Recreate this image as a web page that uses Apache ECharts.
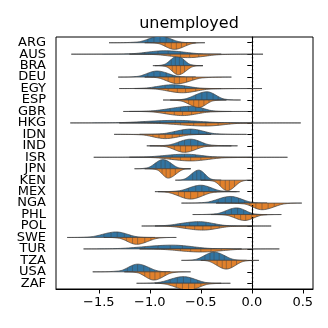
<!DOCTYPE html>
<html>
<head>
<meta charset="utf-8">
<script src="https://cdn.jsdelivr.net/npm/echarts@6/dist/echarts.min.js"></script>
<style>
  html, body { margin: 0; padding: 0; background: #fff; }
  #chart { width: 328px; height: 328px; }
</style>
</head>
<body>
<div id="chart"></div>
<script>
// countries, top to bottom
const countries = ['ARG', 'AUS', 'BRA', 'DEU', 'EGY', 'ESP', 'GBR', 'HKG', 'IDN', 'IND', 'ISR',
  'JPN', 'KEN', 'MEX', 'NGA', 'PHL', 'POL', 'SWE', 'TUR', 'TZA', 'USA', 'ZAF']

// half-violin profiles: [tail start, body start, peak, body end, tail end, peak height (share of row)]
const blueHalf = [
  [-1.40, -1.12, -0.90, -0.70, -0.55, 0.57],
  [-1.77, -1.20, -0.85, -0.50, -0.30, 0.30],
  [-0.97, -0.86, -0.73, -0.60, -0.48, 0.83],
  [-1.31, -1.12, -0.93, -0.72, -0.55, 0.53],
  [-1.30, -1.05, -0.78, -0.50, -0.30, 0.33],
  [-0.80, -0.66, -0.44, -0.27, -0.11, 0.72],
  [-1.26, -0.98, -0.58, -0.38, -0.20, 0.46],
  [-1.78, -1.30, -0.75, -0.30, 0.00, 0.22],
  [-1.10, -0.88, -0.60, -0.35, -0.05, 0.46],
  [-1.00, -0.82, -0.60, -0.40, -0.14, 0.58],
  [-1.55, -1.05, -0.65, -0.35, 0.00, 0.27],
  [-1.15, -1.02, -0.87, -0.72, -0.60, 0.80],
  [-0.75, -0.66, -0.52, -0.40, -0.30, 0.88],
  [-0.92, -0.72, -0.50, -0.30, -0.12, 0.56],
  [-0.69, -0.45, -0.21, 0.00, 0.15, 0.58],
  [-0.58, -0.35, -0.15, 0.02, 0.15, 0.58],
  [-1.08, -0.85, -0.52, -0.25, 0.00, 0.38],
  [-1.81, -1.58, -1.33, -1.12, -0.95, 0.48],
  [-1.65, -1.30, -0.78, -0.40, -0.10, 0.33],
  [-0.69, -0.55, -0.37, -0.18, -0.05, 0.72],
  [-1.56, -1.30, -1.12, -0.92, -0.80, 0.67],
  [-1.13, -0.92, -0.67, -0.45, -0.30, 0.58]
]
const orangeHalf = [
  [-1.05, -0.92, -0.76, -0.58, -0.46, 0.58],
  [-1.20, -0.95, -0.62, -0.30, 0.11, 0.30],
  [-0.95, -0.84, -0.72, -0.58, -0.48, 0.80],
  [-1.05, -0.92, -0.73, -0.48, -0.20, 0.58],
  [-1.15, -0.95, -0.68, -0.40, 0.10, 0.37],
  [-0.87, -0.70, -0.52, -0.38, -0.25, 0.65],
  [-1.20, -0.98, -0.68, -0.40, -0.04, 0.36],
  [-1.30, -0.95, -0.45, -0.10, 0.48, 0.27],
  [-1.35, -1.08, -0.85, -0.60, -0.40, 0.37],
  [-1.03, -0.85, -0.66, -0.45, -0.20, 0.57],
  [-1.20, -0.95, -0.60, -0.25, 0.35, 0.32],
  [-1.05, -0.93, -0.82, -0.68, -0.60, 0.82],
  [-0.50, -0.37, -0.24, -0.10, 0.00, 0.92],
  [-0.95, -0.82, -0.60, -0.38, -0.15, 0.65],
  [-0.35, -0.08, 0.10, 0.32, 0.49, 0.58],
  [-0.40, -0.25, -0.07, 0.10, 0.29, 0.52],
  [-0.95, -0.80, -0.48, -0.20, 0.19, 0.36],
  [-1.45, -1.30, -1.13, -0.92, -0.74, 0.60],
  [-1.10, -0.90, -0.50, -0.10, 0.27, 0.27],
  [-0.50, -0.42, -0.25, -0.08, 0.07, 0.76],
  [-1.25, -1.12, -0.96, -0.78, -0.60, 0.72],
  [-0.95, -0.85, -0.62, -0.42, -0.21, 0.60]
]

// single observations drawn as sticks inside each half
const blueSticks = [
  [-1.02, -0.96, -0.90, -0.84, -0.78],
  [-1.05, -0.92, -0.82, -0.70, -0.60],
  [-0.79, -0.75, -0.71, -0.67],
  [-1.02, -0.96, -0.90, -0.84, -0.78],
  [-0.95, -0.85, -0.76, -0.66],
  [-0.55, -0.49, -0.44, -0.38, -0.33],
  [-0.80, -0.70, -0.62, -0.55, -0.48],
  [-1.05, -0.90, -0.75, -0.62, -0.45],
  [-0.76, -0.68, -0.60, -0.52, -0.44],
  [-0.72, -0.66, -0.60, -0.53, -0.47],
  [-0.90, -0.78, -0.66, -0.55, -0.45],
  [-0.94, -0.89, -0.85, -0.80],
  [-0.58, -0.54, -0.50, -0.46],
  [-0.62, -0.55, -0.49, -0.42, -0.36],
  [-0.33, -0.26, -0.20, -0.13, -0.07],
  [-0.26, -0.20, -0.14, -0.08, -0.02],
  [-0.70, -0.61, -0.53, -0.45, -0.36],
  [-1.45, -1.38, -1.32, -1.25, -1.19],
  [-1.05, -0.92, -0.80, -0.68, -0.55],
  [-0.46, -0.41, -0.37, -0.32, -0.27],
  [-1.22, -1.17, -1.12, -1.06, -1.00],
  [-0.80, -0.73, -0.67, -0.60, -0.53]
]
const orangeSticks = [
  [-0.85, -0.79, -0.74, -0.69, -0.64],
  [-0.80, -0.70, -0.61, -0.52, -0.42],
  [-0.78, -0.74, -0.70, -0.66],
  [-0.82, -0.76, -0.71, -0.64, -0.58],
  [-0.82, -0.73, -0.65, -0.55],
  [-0.62, -0.57, -0.52, -0.47, -0.42],
  [-0.85, -0.76, -0.68, -0.59, -0.50],
  [-0.70, -0.57, -0.45, -0.33, -0.22],
  [-0.97, -0.91, -0.85, -0.78, -0.71],
  [-0.76, -0.70, -0.65, -0.59, -0.53],
  [-0.80, -0.70, -0.60, -0.50, -0.40],
  [-0.88, -0.84, -0.80, -0.75],
  [-0.31, -0.26, -0.22, -0.17],
  [-0.72, -0.66, -0.60, -0.53, -0.47],
  [-0.02, 0.04, 0.10, 0.16, 0.22],
  [-0.17, -0.11, -0.06, 0.00, 0.05],
  [-0.65, -0.56, -0.48, -0.40, -0.32],
  [-1.23, -1.17, -1.12, -1.05, -0.99],
  [-0.70, -0.60, -0.50, -0.40, -0.30],
  [-0.34, -0.29, -0.25, -0.20, -0.15],
  [-1.05, -1.00, -0.95, -0.90, -0.85],
  [-0.74, -0.68, -0.62, -0.56, -0.50]
]

const xTicks = [-1.5, -1.0, -0.5, 0.0, 0.5]

// smooth monotone curve through the profile knots (drawing only)
function profileFn(p) {
  const xs = [p[0], p[1], p[2], p[3], p[4]]
  const ys = [0, 0.12 * p[5], p[5], 0.12 * p[5], 0]
  const n = xs.length
  const d = [], m = []
  for (let i = 0; i < n - 1; i++) d.push((ys[i + 1] - ys[i]) / (xs[i + 1] - xs[i]))
  m[0] = 0
  m[n - 1] = 0
  for (let i = 1; i < n - 1; i++) m[i] = d[i - 1] * d[i] <= 0 ? 0 : (d[i - 1] + d[i]) / 2
  for (let i = 0; i < n - 1; i++) {
    if (d[i] === 0) { m[i] = 0; m[i + 1] = 0; continue }
    const a = m[i] / d[i], b = m[i + 1] / d[i], s = a * a + b * b
    if (s > 9) { const t = 3 / Math.sqrt(s); m[i] = t * a * d[i]; m[i + 1] = t * b * d[i] }
  }
  return function (x) {
    if (x <= xs[0] || x >= xs[n - 1]) return 0
    let i = 0
    while (x > xs[i + 1]) i++
    const h = xs[i + 1] - xs[i], t = (x - xs[i]) / h
    const t2 = t * t, t3 = t2 * t
    return (2 * t3 - 3 * t2 + 1) * ys[i] + (t3 - 2 * t2 + t) * h * m[i] +
      (-2 * t3 + 3 * t2) * ys[i + 1] + (t3 - t2) * h * m[i + 1]
  }
}

function makeRender(profiles, sticks, color, sign) {
  return function (params, api) {
    const idx = api.value(0)
    const p = profiles[idx]
    const f = profileFn(p)
    const band = api.size([0, 1])[1]
    const pts = []
    const steps = 60
    for (let k = 0; k <= steps; k++) {
      const x = p[0] + (p[4] - p[0]) * k / steps
      const c = api.coord([x, idx])
      pts.push([c[0], c[1] - sign * f(x) * band])
    }
    const children = [{
      type: 'polygon',
      shape: { points: pts },
      style: { fill: color, stroke: '#3f3f3f', lineWidth: 0.7 }
    }]
    sticks[idx].forEach(function (s) {
      const c = api.coord([s, idx])
      children.push({
        type: 'line',
        shape: { x1: c[0], y1: c[1], x2: c[0], y2: c[1] - sign * f(s) * band },
        style: { stroke: '#3f3f3f', lineWidth: 0.5, opacity: 0.85 }
      })
    })
    return { type: 'group', children: children }
  }
}

const rows = countries.map(function (c, i) { return [i] })

let myChart = echarts.init(document.getElementById('chart'), null, { renderer: 'canvas' })
myChart.setOption({
  animation: false,
  textStyle: { fontFamily: 'DejaVu Sans' },
  title: {
    text: 'unemployed',
    left: 184,
    top: 11,
    textAlign: 'center',
    textStyle: { fontSize: 16, fontWeight: 'normal', color: '#000', fontFamily: 'DejaVu Sans' }
  },
  grid: {
    left: 56, right: 15, top: 37, bottom: 39,
    show: true, borderColor: '#000', borderWidth: 1, backgroundColor: 'transparent'
  },
  xAxis: {
    type: 'value',
    min: -1.92,
    max: 0.6,
    splitLine: { show: false },
    axisLine: { show: true, lineStyle: { color: '#000', width: 1 } },
    axisTick: { show: true, length: 4.5, customValues: xTicks, lineStyle: { color: '#000' } },
    axisLabel: {
      customValues: xTicks,
      margin: 7,
      fontSize: 13,
      color: '#000',
      fontFamily: 'DejaVu Sans',
      formatter: function (v) { return (v < 0 ? '\u2212' : '') + Math.abs(v).toFixed(1) }
    }
  },
  yAxis: {
    type: 'category',
    data: countries,
    inverse: true,
    axisLine: { show: true, lineStyle: { color: '#000', width: 1 } },
    axisTick: { show: true, alignWithLabel: true, interval: 0, length: 4.5, lineStyle: { color: '#000' } },
    axisLabel: { interval: 0, margin: 10, fontSize: 13, lineHeight: 11, color: '#000', fontFamily: 'DejaVu Sans' },
    splitLine: { show: false }
  },
  series: [
    {
      type: 'custom',
      clip: true,
      data: rows,
      encode: { y: 0 },
      renderItem: makeRender(blueHalf, blueSticks, '#3274a1', 1)
    },
    {
      type: 'custom',
      clip: true,
      data: rows,
      encode: { y: 0 },
      renderItem: makeRender(orangeHalf, orangeSticks, '#e1812c', -1),
      markLine: {
        silent: true,
        symbol: ['none', 'none'],
        label: { show: false },
        lineStyle: { color: '#000', type: [1.5, 2.5], width: 1.3 },
        data: [{ xAxis: 0 }]
      }
    }
  ]
})
</script>
</body>
</html>
